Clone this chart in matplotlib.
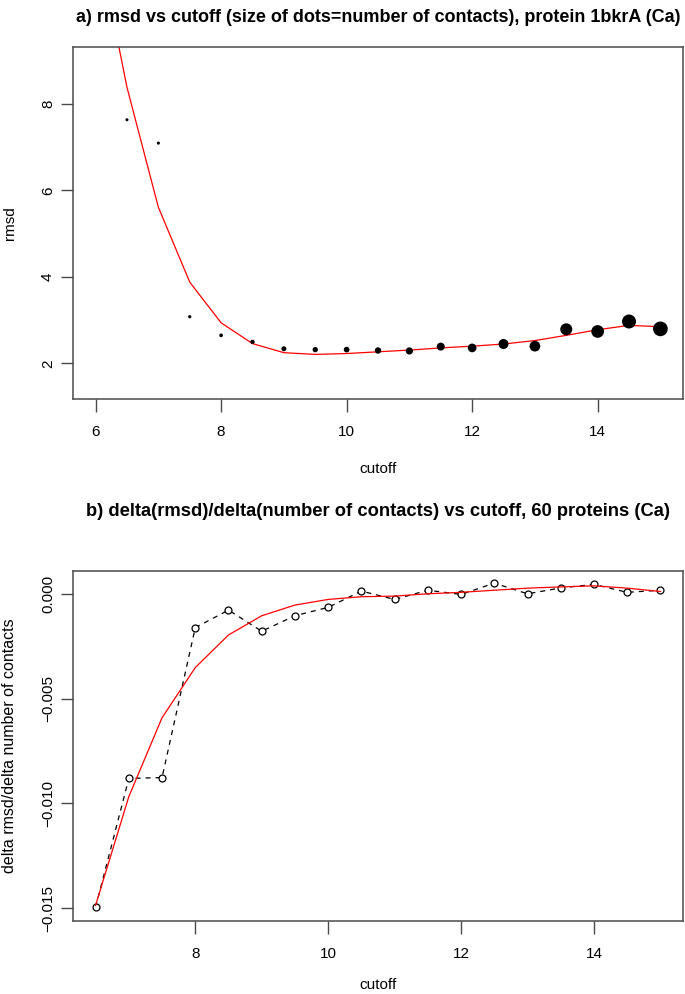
import numpy as np
import matplotlib
matplotlib.use("Agg")
import matplotlib.pyplot as plt

plt.rcParams['font.family'] = ['Liberation Sans', 'DejaVu Sans']

# ---------------------------------------------------------------- data

# panel a: rmsd vs cutoff for protein 1bkrA
cutoff_a = [6.5, 7.0, 7.5, 8.0, 8.5, 9.0, 9.5, 10.0, 10.5,
            11.0, 11.5, 12.0, 12.5, 13.0, 13.5, 14.0, 14.5, 15.0]
rmsd_a = [7.63, 7.09, 3.08, 2.65, 2.50, 2.34, 2.32, 2.32, 2.30,
          2.29, 2.39, 2.36, 2.45, 2.40, 2.79, 2.74, 2.97, 2.80]
n_contacts = [300, 310, 330, 370, 430, 500, 530, 570, 640,
              720, 800, 870, 1000, 1070, 1200, 1270, 1400, 1470]

smooth_x_a = [6.0, 6.5, 7.0, 7.5, 8.0, 8.5, 9.0, 9.5, 10.0, 10.5,
              11.0, 11.5, 12.0, 12.5, 13.0, 13.5, 14.0, 14.5, 15.0]
smooth_y_a = [12.0, 8.38, 5.61, 3.88, 2.94, 2.46, 2.25, 2.21, 2.23, 2.27,
              2.31, 2.36, 2.40, 2.45, 2.53, 2.65, 2.78, 2.88, 2.85]

# panel b: delta(rmsd)/delta(contacts), 60 proteins
cutoff_b = [6.5, 7.0, 7.5, 8.0, 8.5, 9.0, 9.5, 10.0, 10.5,
            11.0, 11.5, 12.0, 12.5, 13.0, 13.5, 14.0, 14.5, 15.0]
ratio_b = [-0.01497, -0.00880, -0.00876, -0.00159, -0.00075, -0.00176,
           -0.00102, -0.00062, 0.00016, -0.00024, 0.00020, 0.00000,
           0.00054, 0.00003, 0.00031, 0.00048, 0.00010, 0.00020]
smooth_y_b = [-0.01487, -0.00967, -0.00590, -0.00350, -0.00194, -0.00102,
              -0.00051, -0.00024, -0.00011, -0.00008, 0.00003, 0.00010,
              0.00020, 0.00030, 0.00036, 0.00041, 0.00030, 0.00014]

# ---------------------------------------------------------------- figure

W, H = 685, 994
fig = plt.figure(figsize=(W / 100, H / 100), dpi=100)


def box(l, t, r, b):
    return [l / W, 1 - b / H, (r - l) / W, (b - t) / H]


edge = "#4a4a4a"
red = "#ff0000"


def style(ax, xlab_top, ylab_right):
    for s in ax.spines.values():
        s.set_color(edge)
        s.set_linewidth(1.1)
    ax.tick_params(direction="out", length=9, width=1.0, color=edge,
                   labelsize=11)
    ax.tick_params(axis="x", pad=10)
    ax.tick_params(axis="y", pad=4)
    for lab in ax.get_yticklabels():
        lab.set_rotation(90)
        lab.set_va("center")
    bb = ax.get_position()
    h_px = bb.height * H
    w_px = bb.width * W
    ax.xaxis.set_label_coords(0.5, -xlab_top / h_px)
    ax.yaxis.set_label_coords(-ylab_right / w_px, 0.5)


ax1 = fig.add_axes(box(73, 47, 683, 399))
ax1.plot(smooth_x_a, smooth_y_a, color=red, lw=0.9, zorder=2)
diam_pt = np.array(n_contacts) / 100 * 0.72
ax1.scatter(cutoff_a, rmsd_a, s=diam_pt ** 2, color="black", lw=0, zorder=3)
ax1.set_xlim(5.64, 15.36)
ax1.set_ylim(1.18, 9.31)
ax1.set_xticks([6, 8, 10, 12, 14])
ax1.set_yticks([2, 4, 6, 8])
ax1.set_xlabel("cutoff", fontsize=11)
ax1.set_ylabel("rmsd", fontsize=11)
style(ax1, 63, 56)
fig.text(378 / W, 1 - 18 / H,
         "a) rmsd vs cutoff (size of dots=number of contacts), protein 1bkrA (Ca)",
         fontsize=13.0, fontweight="bold", ha="center", va="center")

ax2 = fig.add_axes(box(73, 571, 683, 921))
ax2.plot(cutoff_b, ratio_b, color="black", lw=0.9, ls=(0, (4, 4)), zorder=2,
         marker="o", mfc="white", mec="black", ms=5, mew=0.9)
ax2.plot(cutoff_b, smooth_y_b, color=red, lw=0.9, zorder=3)
ax2.set_xlim(6.16, 15.34)
ax2.set_ylim(-0.01562, 0.00112)
ax2.set_xticks([8, 10, 12, 14])
ax2.set_yticks([0.0, -0.005, -0.010, -0.015])
ax2.set_yticklabels(["0.000", "\u22120.005", "\u22120.010", "\u22120.015"])
ax2.set_xlabel("cutoff", fontsize=11)
ax2.set_ylabel("delta rmsd/delta number of contacts", fontsize=11.5)
style(ax2, 57, 56)
fig.text(378 / W, 1 - 512 / H,
         "b) delta(rmsd)/delta(number of contacts) vs cutoff, 60 proteins (Ca)",
         fontsize=13.2, fontweight="bold", ha="center", va="center")

fig.savefig("out.png", dpi=100)
